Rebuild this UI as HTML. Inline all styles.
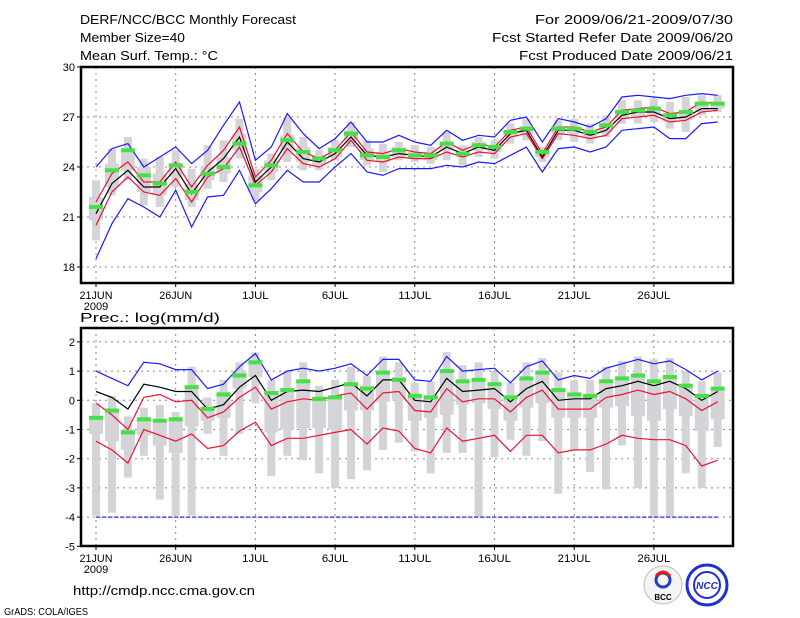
<!DOCTYPE html>
<html><head><meta charset="utf-8"><style>
body{margin:0;background:#fff}
svg{display:block;font-family:"Liberation Sans",sans-serif}
</style></head><body>
<svg id="c" width="800" height="618" viewBox="0 0 800 618" xmlns="http://www.w3.org/2000/svg">
<rect width="800" height="618" fill="#fff"/>
<g id="hdr" font-size="13" fill="#000">
<text x="80" y="24" textLength="216" lengthAdjust="spacingAndGlyphs">DERF/NCC/BCC Monthly Forecast</text>
<text x="80" y="42" textLength="105" lengthAdjust="spacingAndGlyphs">Member Size=40</text>
<text x="80" y="60" textLength="138" lengthAdjust="spacingAndGlyphs">Mean Surf. Temp.: °C</text>
<text x="535" y="24" textLength="198" lengthAdjust="spacingAndGlyphs">For 2009/06/21-2009/07/30</text>
<text x="492" y="42" textLength="241" lengthAdjust="spacingAndGlyphs">Fcst Started Refer Date 2009/06/20</text>
<text x="519" y="60" textLength="214" lengthAdjust="spacingAndGlyphs">Fcst Produced Date 2009/06/21</text>
<text x="80" y="322" textLength="140" lengthAdjust="spacingAndGlyphs">Prec.: log(mm/d)</text>
<text x="73" y="595" textLength="182" lengthAdjust="spacingAndGlyphs">http://cmdp.ncc.cma.gov.cn</text>
<text x="4" y="615" font-size="10" textLength="84" lengthAdjust="spacingAndGlyphs">GrADS: COLA/IGES</text>
</g>
<g>
<circle cx="663" cy="585" r="19" fill="#f4f4f4" stroke="#bbb"/>
<circle cx="663" cy="580" r="7" fill="none" stroke="#2040c0" stroke-width="3"/>
<path d="M656 576 q7 -8 14 0" fill="none" stroke="#e02020" stroke-width="3"/>
<text x="663" y="600" font-size="8" text-anchor="middle" font-weight="bold">BCC</text>
</g>
<g>
<circle cx="707" cy="585" r="20" fill="#fff" stroke="#2030d0" stroke-width="3"/>
<circle cx="707" cy="585" r="13" fill="none" stroke="#2030d0" stroke-width="2"/>
<text x="707" y="589" font-size="10" text-anchor="middle" fill="#2030d0" font-weight="bold" font-style="italic">NCC</text>
</g>
<g id="plots"></g>
</svg>
<script>
// ---------- data ----------
const dateLabels = ["21JUN","26JUN","1JUL","6JUL","11JUL","16JUL","21JUL","26JUL"];
const tTicks = [18,21,24,27,30];
const pTicks = [-5,-4,-3,-2,-1,0,1,2];
// temperature
const tBlueU = [24.0,25.1,25.4,24.0,24.6,25.2,24.2,25.0,26.5,27.9,24.4,25.2,27.2,26.0,25.1,25.7,26.7,25.5,25.5,25.9,25.5,25.3,26.2,25.6,25.9,25.8,26.8,27.0,25.5,26.9,26.7,26.4,26.9,28.2,28.3,28.2,28.1,28.3,28.4,28.3];
const tBlueL = [18.5,20.6,22.1,21.6,21.0,22.6,20.4,22.2,22.3,23.8,21.8,22.7,23.8,23.1,23.1,24.0,24.8,23.7,23.5,23.9,23.9,23.9,24.1,24.0,24.3,24.2,24.7,25.2,23.7,25.1,25.2,24.9,25.2,26.2,26.3,26.4,25.7,25.7,26.6,26.7];
const tRedU = [21.9,23.6,24.3,23.1,23.1,24.3,22.8,24.1,25.0,26.4,23.4,24.4,26.0,24.9,24.5,25.0,26.1,24.9,24.8,25.1,24.9,24.8,25.5,25.0,25.4,25.2,26.2,26.4,24.8,26.4,26.4,26.1,26.4,27.4,27.5,27.6,27.2,27.3,27.9,27.8];
const tRedL = [20.5,22.5,23.4,22.5,22.3,23.3,21.9,23.4,23.9,25.2,22.9,23.7,25.1,24.2,24.0,24.5,25.6,24.4,24.3,24.6,24.5,24.5,24.9,24.6,24.9,24.8,25.8,26.0,24.5,26.0,25.9,25.7,25.9,26.9,27.0,27.1,26.7,26.8,27.3,27.4];
const tMean = [21.2,23.0,23.8,22.8,22.8,23.9,22.4,23.7,24.5,25.8,23.1,24.0,25.5,24.5,24.3,24.8,25.8,24.7,24.6,24.8,24.7,24.6,25.2,24.8,25.2,25.0,26.0,26.2,24.6,26.2,26.2,25.9,26.2,27.1,27.3,27.3,26.9,27.0,27.5,27.5];
const tGreen = [21.6,23.8,25.0,23.5,23.0,24.1,22.5,23.6,24.0,25.4,22.9,24.1,25.6,24.9,24.5,25.0,26.0,24.7,24.6,25.0,24.7,24.7,25.4,24.8,25.3,25.2,26.1,26.3,24.9,26.3,26.3,26.1,26.5,27.3,27.4,27.5,27.1,27.3,27.8,27.8];
const tMin = [19.6,22.3,23.2,21.7,21.6,22.8,21.6,22.7,23.1,24.5,22.0,23.2,24.3,23.8,23.8,24.4,25.2,24.1,23.7,24.4,24.3,24.2,24.4,24.1,24.6,24.5,25.4,25.6,24.3,25.6,25.5,25.4,25.8,26.6,26.6,26.7,26.3,26.1,27.1,27.3];
const tMax = [23.2,25.1,25.8,24.5,24.6,25.0,23.9,25.3,25.6,26.9,23.9,24.8,27.0,25.8,25.0,25.6,26.7,25.6,25.4,25.5,25.3,25.2,26.1,25.3,25.8,25.6,26.6,26.9,25.2,26.8,26.9,26.6,27.1,28.0,28.0,28.1,27.9,28.2,28.3,28.3];
const tQ1 = [20.8,22.8,23.8,22.5,22.3,23.4,22.0,23.2,23.6,25.0,22.5,23.7,25.0,24.3,24.1,24.6,25.6,24.4,24.3,24.6,24.5,24.4,25.0,24.6,25.0,24.9,25.8,26.0,24.6,26.0,26.0,25.8,26.1,26.9,27.0,27.1,26.7,26.8,27.4,27.5];
const tQ3 = [22.2,24.2,25.0,24.0,23.6,24.2,23.0,24.0,24.6,26.0,23.5,24.4,25.9,25.2,24.7,25.2,26.2,25.1,24.9,25.2,24.9,24.9,25.5,25.0,25.5,25.3,26.2,26.4,25.1,26.4,26.4,26.2,26.6,27.4,27.5,27.6,27.2,27.4,27.8,27.9];
// precipitation (log mm/d)
const pBlue = [1.0,0.75,0.5,1.3,1.25,1.05,1.05,0.4,0.55,1.15,1.6,0.7,1.0,1.1,1.0,1.1,1.25,0.85,1.4,1.4,0.7,0.65,1.5,1.0,1.05,1.1,0.6,1.15,1.35,0.7,0.85,0.75,1.1,1.25,1.4,1.25,1.35,1.05,0.7,1.0];
const pMean = [0.3,0.1,-0.3,0.55,0.45,0.3,0.3,-0.3,-0.15,0.45,0.85,0.0,0.3,0.35,0.3,0.45,0.6,0.15,0.7,0.7,0.0,-0.05,0.75,0.3,0.35,0.4,-0.05,0.4,0.65,0.0,0.05,0.05,0.4,0.5,0.65,0.5,0.65,0.4,0.0,0.3];
const pRedU = [-0.1,-0.5,-1.0,0.1,0.2,-0.05,0.0,-0.6,-0.4,0.1,0.45,-0.3,-0.05,0.05,0.0,0.15,0.25,-0.3,0.25,0.3,-0.35,-0.4,0.4,-0.05,0.05,0.05,-0.4,0.1,0.35,-0.3,-0.3,-0.3,0.1,0.2,0.35,0.2,0.3,0.05,-0.35,-0.05];
const pRedL = [-1.4,-1.7,-2.15,-1.0,-1.2,-1.4,-1.15,-1.65,-1.55,-1.05,-0.75,-1.55,-1.3,-1.3,-1.2,-1.1,-1.0,-1.5,-0.95,-1.05,-1.65,-1.8,-0.95,-1.4,-1.3,-1.2,-1.75,-1.2,-1.2,-1.8,-1.7,-1.7,-1.5,-1.2,-1.3,-1.35,-1.35,-1.55,-2.25,-2.05];
const pGreen = [-0.6,-0.35,-1.1,-0.65,-0.7,-0.65,0.45,-0.3,0.2,0.85,1.3,0.25,0.35,0.65,0.05,0.1,0.55,0.4,0.95,0.7,0.15,0.1,1.0,0.65,0.7,0.55,0.1,0.75,0.95,0.35,0.2,0.15,0.65,0.75,0.85,0.65,0.8,0.5,0.15,0.4];
const pMin = [-3.95,-3.85,-2.65,-1.9,-3.4,-3.95,-3.95,-1.15,-1.9,-1.15,-0.1,-2.6,-1.9,-2.05,-2.5,-3.0,-2.7,-2.4,-1.7,-1.45,-1.75,-2.5,-1.8,-1.8,-4.0,-1.95,-1.35,-1.9,-1.4,-3.2,-1.7,-2.45,-3.05,-1.55,-3.0,-4.0,-4.0,-2.5,-3.0,-1.6];
const pMax = [-0.1,0.15,-0.55,-0.25,-0.15,-0.4,1.15,0.1,0.7,1.3,1.65,0.7,1.0,1.3,0.5,0.7,1.15,0.85,1.5,1.3,0.6,0.65,1.65,1.2,1.3,1.0,0.6,1.3,1.45,0.95,0.7,0.7,1.15,1.35,1.5,1.4,1.45,1.0,0.65,0.95];
const pQ1 = [-1.15,-1.4,-1.7,-1.2,-1.55,-1.8,-0.9,-0.7,-0.6,0.4,0.8,-1.1,-1.0,-0.95,-0.95,-1.0,-0.35,-0.35,-0.05,0.0,-0.7,-0.6,-0.5,-0.15,-0.1,-0.3,-0.7,-0.25,-0.1,-0.6,-0.6,-0.6,-0.25,-0.2,-0.55,-0.7,-0.3,-0.55,-1.05,-0.65];
const pQ3 = [-0.55,-0.4,-1.0,-0.6,-0.65,-0.7,0.4,-0.2,0.3,1.0,1.4,0.3,0.4,0.7,0.1,0.15,0.6,0.5,1.0,0.8,0.2,0.15,1.05,0.65,0.7,0.55,0.1,0.75,0.95,0.35,0.2,0.15,0.65,0.75,0.85,0.65,0.8,0.5,0.15,0.4];
const pFloor = -4;

// ---------- drawing ----------
const NS = "http://www.w3.org/2000/svg";
const root = document.getElementById('plots');
const X0 = 96, DX = 15.94;
const xDay = i => X0 + DX * i;
function el(tag, attrs, parent) {
  const e = document.createElementNS(NS, tag);
  for (const k in attrs) e.setAttribute(k, attrs[k]);
  (parent || root).appendChild(e);
  return e;
}
function panel(cfg) {
  const y = cfg.y;
  const g = el('g', {});
  
  
  // grid
  dateLabels.forEach((lab, k) => {
    const x = xDay(k * 5);
    const ln = el('line', {x1: x, x2: x, y1: cfg.top, y2: cfg.bot, stroke: '#888', 'stroke-dasharray': '2,4', 'stroke-width': 1}, g);
    
    
    const tk = el('line', {x1: x, x2: x, y1: cfg.bot, y2: cfg.bot + 4, stroke: '#000'}, g);
    
    
    const t = el('text', {x: x, y: cfg.bot + 16, 'font-size': 11, 'text-anchor': 'middle', textLength: lab.length * 6.6, lengthAdjust: 'spacingAndGlyphs'}, g);
    t.textContent = lab;
    
    
  });
  const yr = el('text', {x: xDay(0), y: cfg.bot + 27, 'font-size': 11, 'text-anchor': 'middle'}, g);
  yr.textContent = '2009';
  
  
  cfg.ticks.forEach(v => {
    const yy = y(v);
    if (yy > cfg.top + 2 && yy < cfg.bot - 2) {
      const ln = el('line', {x1: cfg.left, x2: cfg.right, y1: yy, y2: yy, stroke: '#888', 'stroke-dasharray': '2,4'}, g);
      
      
    }
    const tk = el('line', {x1: cfg.left - 4, x2: cfg.left, y1: yy, y2: yy, stroke: '#000'}, g);
    
    
    const t = el('text', {x: cfg.left - 6, y: yy + 4, 'font-size': 11, 'text-anchor': 'end'}, g);
    t.textContent = String(v);
    
    
  });
  const d = cfg.data;
  // whiskers and boxes
  d.min.forEach((v, i) => {
    const x = xDay(i);
    const w = el('rect', {x: x - 4, y: y(d.max[i]), width: 8, height: y(v) - y(d.max[i]), fill: '#d4d4d8'}, g);
    
    
    const b = el('rect', {x: x - 7, y: y(d.q3[i]), width: 14, height: y(d.q1[i]) - y(d.q3[i]), fill: '#d4d4d8'}, g);
    
    
  });
  if (cfg.floor !== undefined) {
    const fl = el('line', {x1: xDay(0), x2: xDay(d.min.length - 1), y1: y(cfg.floor), y2: y(cfg.floor), stroke: '#2030e0', 'stroke-dasharray': '4,2', 'stroke-width': 1.2}, g);
    
    
  }
  d.lines.forEach(([arr, col, nm]) => {
    const pl = el('polyline', {points: arr.map((v, i) => xDay(i).toFixed(1) + ',' + y(v).toFixed(1)).join(' '), fill: 'none', stroke: col, 'stroke-width': 1.2}, g);
    
    
  });
  d.green.forEach((v, i) => {
    const r = el('rect', {x: xDay(i) - 7, y: y(v) - 2, width: 14, height: 4, fill: '#44e044'}, g);
    
    
  });
  const fr = el('rect', {x: cfg.left, y: cfg.top, width: cfg.right - cfg.left, height: cfg.bot - cfg.top, fill: 'none', stroke: '#000', 'stroke-width': 2.5}, g);
  
  
}
const yT = v => 267 - (v - 18) * 16.67;
const yP = v => 400.3 - v * 29.2;
panel({name: 'temperature-panel', y: yT, top: 67, bot: 283, left: 81, right: 733, ticks: tTicks,
  data: {min: tMin, max: tMax, q1: tQ1, q3: tQ3, green: tGreen,
    lines: [[tBlueU, '#1a1aff', 'max-line'], [tBlueL, '#1a1aff', 'min-line'], [tRedU, '#ee1133', 'upper-line'], [tRedL, '#ee1133', 'lower-line'], [tMean, '#000', 'mean-line']]}});
panel({name: 'precipitation-panel', y: yP, top: 328, bot: 546, left: 81, right: 733, ticks: pTicks, floor: pFloor,
  data: {min: pMin, max: pMax, q1: pQ1, q3: pQ3, green: pGreen,
    lines: [[pBlue, '#1a1aff', 'max-line'], [pRedU, '#ee1133', 'upper-line'], [pRedL, '#ee1133', 'lower-line'], [pMean, '#000', 'mean-line']]}});
</script>
</body></html>
